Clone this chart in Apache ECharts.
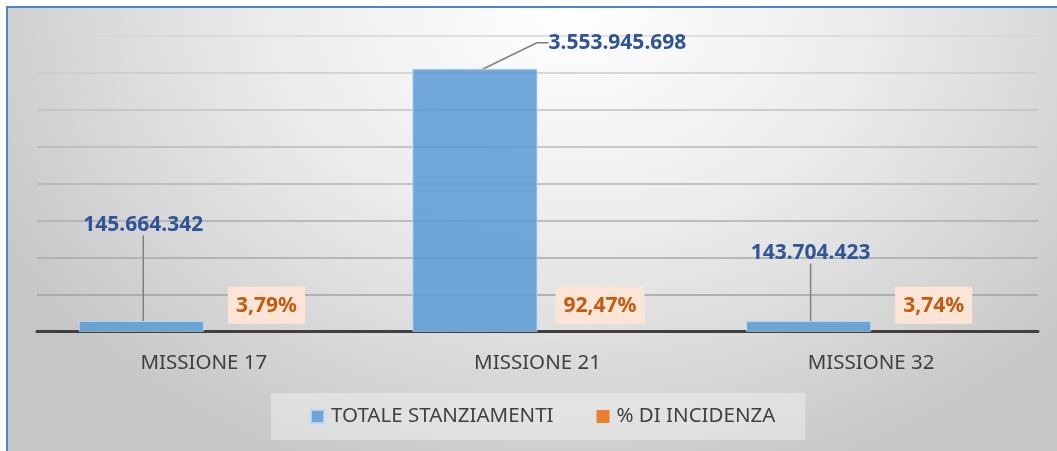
<!DOCTYPE html>
<html>
<head>
<meta charset="utf-8">
<script src="https://cdn.jsdelivr.net/npm/echarts@6/dist/echarts.min.js"></script>
<style>
  html, body { margin: 0; padding: 0; width: 1057px; height: 451px; overflow: hidden; background: #fff; }
  #frame {
    position: absolute; left: 6px; top: 6px; width: 1060px; height: 460px;
    border-left: 2px solid #4a87c9; border-top: 2px solid #4a87c9;
    background: radial-gradient(ellipse 62% 110% at 53% 0%, #ffffff 0%, #ececec 45%, #c6c6c6 100%);
  }
  #chart { position: absolute; left: 0; top: 0; width: 1057px; height: 451px; }
</style>
</head>
<body>
<div id="frame"></div>
<div id="chart"></div>
<script>
const categories = ['MISSIONE 17', 'MISSIONE 21', 'MISSIONE 32']
const totaleStanziamenti = [145664342, 3553945698, 143704423]
// percentuali come frazione (stessa scala delle barre, quindi altezza ~0)
const incidenza = [0.0379, 0.9247, 0.0374]
const yTicks = [0, 500000000, 1000000000, 1500000000, 2000000000, 2500000000, 3000000000, 3500000000, 4000000000]

const fontFamily = '"Noto Sans", "Open Sans", sans-serif'

function formatIt(v) {
  return String(v).replace(/\B(?=(\d{3})+(?!\d))/g, '.')
}

const chart = echarts.init(document.getElementById('chart'), null, { renderer: 'canvas' })

// la barra alta ha l'etichetta spostata a destra con linea spezzata
const totaleData = totaleStanziamenti.map((v, i) => {
  if (i !== 1) return v
  return {
    value: v,
    label: { padding: [0, 0, 0, 10] },
    labelLine: { length2: 66, minTurnAngle: 154 }
  }
})

chart.setOption({
  backgroundColor: 'transparent',
  animation: false,
  grid: {
    left: 37,
    right: 19,
    top: 35.7,
    bottom: 119.3
  },
  legend: {
    data: ['TOTALE STANZIAMENTI', '% DI INCIDENZA'],
    left: 271,
    top: 393,
    padding: [13, 30, 13, 39],
    backgroundColor: 'rgba(255,255,255,0.35)',
    itemWidth: 13,
    itemHeight: 13,
    itemGap: 43,
    icon: 'rect',
    textStyle: {
      fontFamily: fontFamily,
      fontSize: 20.5,
      color: '#404040',
      padding: [0, 0, 0, 2]
    }
  },
  xAxis: {
    type: 'category',
    data: categories,
    axisTick: { show: false },
    axisLine: {
      lineStyle: { color: '#404040', width: 3 }
    },
    axisLabel: {
      margin: 21,
      fontFamily: fontFamily,
      fontSize: 20.5,
      color: '#404040'
    }
  },
  yAxis: {
    type: 'value',
    min: yTicks[0],
    max: yTicks[yTicks.length - 1],
    interval: yTicks[1] - yTicks[0],
    axisLabel: { show: false },
    axisLine: { show: false },
    axisTick: { show: false },
    splitLine: {
      lineStyle: {
        width: 1.6,
        color: ['#9a9a9a', '#a2a2a2', '#a8a8a8', '#adadad', '#b3b3b3', '#b9b9b9', '#c2c2c2', '#cbcbcb', '#d6d6d6']
      }
    }
  },
  series: [
    {
      name: 'TOTALE STANZIAMENTI',
      type: 'bar',
      data: totaleData,
      barGap: '0%',
      barCategoryGap: '25%',
      itemStyle: {
        color: 'rgba(91,155,213,0.86)',
        borderColor: 'rgba(189,215,238,0.9)',
        borderWidth: 1
      },
      label: {
        show: true,
        position: 'top',
        fontFamily: fontFamily,
        fontSize: 21,
        fontWeight: 'bold',
        color: '#2f5597',
        formatter: (p) => formatIt(p.value)
      },
      labelLine: {
        show: true,
        length2: 10,
        lineStyle: { color: '#7f7f7f', width: 1.5 }
      },
      labelLayout: (p) => {
        const r = p.rect
        if (p.dataIndex === 1) {
          return {
            x: r.x + r.width + 1,
            y: r.y - 26,
            align: 'left',
            verticalAlign: 'middle'
          }
        }
        const up = p.dataIndex === 0 ? 96 : 68
        return {
          x: r.x + r.width / 2 + 2,
          y: r.y - up,
          align: 'center',
          verticalAlign: 'middle'
        }
      }
    },
    {
      name: '% DI INCIDENZA',
      type: 'bar',
      data: incidenza,
      itemStyle: { color: '#ed7d31' },
      label: {
        show: true,
        position: 'top',
        distance: 8,
        fontFamily: fontFamily,
        fontSize: 21,
        fontWeight: 'bold',
        color: '#c55a11',
        backgroundColor: '#fbe5d6',
        lineHeight: 22,
        padding: [8, 8, 7, 8],
        formatter: (p) => (p.value * 100).toFixed(2).replace('.', ',') + '%'
      }
    }
  ]
})
</script>
</body>
</html>
